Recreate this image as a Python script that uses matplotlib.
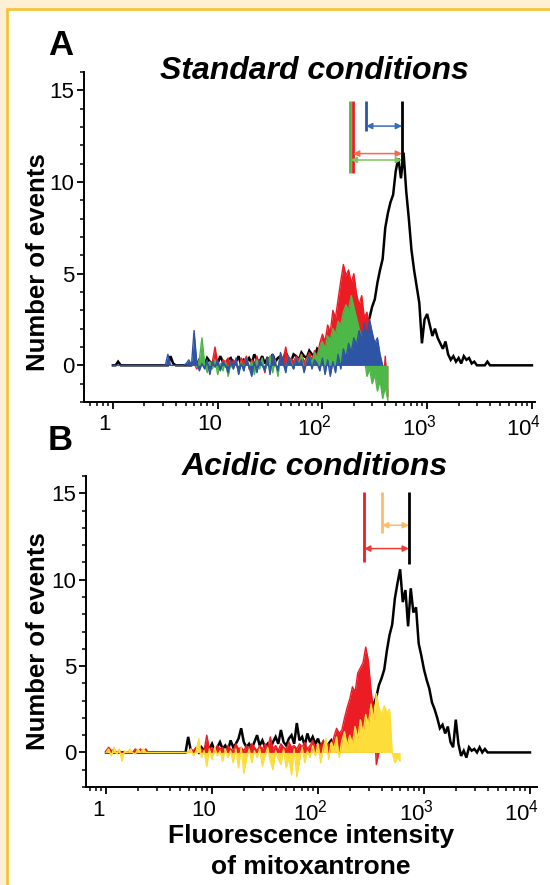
import numpy as np
import matplotlib
matplotlib.use('Agg')
import matplotlib.pyplot as plt
from matplotlib.patches import Rectangle
from matplotlib.transforms import ScaledTranslation
from matplotlib.ticker import LogLocator, MultipleLocator, FixedLocator, NullFormatter

plt.rcParams['font.family'] = ['Liberation Sans', 'DejaVu Sans']
plt.rcParams['mathtext.fontset'] = 'custom'
plt.rcParams['mathtext.rm'] = 'Liberation Sans'

# ---------------- data ----------------
CH_STEP = 0.025  # width of one histogram channel, in decades

# Panel A (standard conditions); each series: first channel (log10 intensity) + counts
a_black_start = 0.0
a_black = [0, 0, 0.2, 0, 0, 0, 0, 0, 0, 0,
           0, 0, 0, 0, 0, 0, 0, 0, 0, 0,
           0, 0, 0.5, 0.1, 0, 0, 0, 0, 0, 0,
           0,
           0.2, 0, 0.3, 0.1, 0, 0.4, 0.2, 0, 0.3, 0.1,
           0.5, 0.2, 0, 0.3, 0.4, 0.1, 0.2, 0.5, 0, 0.3,
           0.2, 0.4, 0.1, 0.6, 0.3, 0.2, 0.5, 0.1, 0.4, 0.3,
           0.6, 0.2, 0.4, 0.5, 0.3, 0.7, 0.4, 0.2, 0.6, 0.5,
           0.3, 0.7, 0.5, 0.4, 0.8, 0.6, 0.5, 0.9, 0.7, 0.6,
           0.8, 0.5, 0.9, 0.7, 1.0, 0.8, 1.2, 0.9, 1.3, 1.1,
           1.4, 1.2, 1.6, 1.3, 1.7,
           1.8, 2.2, 2.6, 3.2, 3.6, 4.5, 5.2, 5.8, 7.5, 8.3,
           8.9, 9.3, 10.6, 11.3, 10.2, 11.6, 9.5, 8.0, 6.3, 5.2,
           4.3, 3.4, 1.2, 2.5, 2.8, 2.2, 1.6, 2.0, 1.5, 1.2,
           0.9, 1.3, 0.6, 0.3, 0.5, 0.2, 0.4, 0.1, 0.5, 0.3,
           0.4, 0.1, 0.2, 0, 0, 0, 0, 0.2, 0, 0,
           0, 0, 0, 0, 0, 0, 0, 0, 0, 0,
           0, 0, 0, 0, 0]

a_red_start = 0.75
a_red = [0, 0.1, -0.2, 0.3, 0, 0.2, -0.3, 0.1, 0.2, 1.0,
         0.1, -0.2, 0.3, 0.2, 0.4, -0.1, 0.3, 0.1, -0.3, 0.4,
         0.2, 0.5, -0.2, 0.3, 0.1, 0.5, 0, 0.3, -0.4, 0.4,
         0.2, 0.6, 0.1, -0.2, 0.5, 0.3, 1.0, 0.1, 0.4, 0.2,
         0.5, 0.3, 0.6, 0.2, 0.4, 0.7, 0.3, 0.8, 0.5, 1.2,
         1.7, 1.3, 2.2, 1.8, 3.0, 2.6, 3.6, 4.6, 5.5, 4.9,
         5.2, 4.5, 5.0, 3.9, 3.3, 3.8, 2.6, 2.9, 2.0, 1.6,
         1.2, 0.6, -0.4, -1.5, 0.5, -1.7]

a_green_start = 0.75
a_green = [0, 0.2, -0.1, 0.3, 1.5, 0.1, -0.4, 0.2, -0.2, 0.3,
           -0.5, 0.1, -0.3, 0.2, -0.6, 0.1, -0.2, 0.3, -0.4, 0.2,
           -0.3, 0.4, -0.1, 0.2, -0.5, 0.3, -0.2, 0.4, -0.3, 0.1,
           0.5, -0.4, 0.3, -0.6, 0.4, 0.1, -0.3, 0.5, 0.2, -0.2,
           0.4, 0.1, 0.6, -0.3, 0.3, 0.5, 0.1, 0.7, 0.4, 1.0,
           1.3, 0.9, 1.6, 1.4, 2.0, 1.7, 2.4, 2.2, 2.9, 3.3,
           3.0, 3.8, 3.2, 2.6, 2.0, 1.5, 0.4, -0.6, -0.2, -1.0,
           -0.5, -1.4, -0.8, -1.8, -1.2, -1.9]

a_blue_start = 0.0
a_blue = [0, 0, 0, 0, 0, 0, 0, 0, 0, 0,
          0, 0, 0, 0, 0, 0, 0, 0, 0, 0,
          0,
          0.6, 0, 0, 0, 0, 0, 0, 0.1, 0.3, 0,
          1.9, 0.2, -0.3, 0.1, -0.2, 0.3, -0.5, 0.2, -0.1, 0.3,
          -0.3, 0.2, 0.0, -0.4, 0.3, -0.2, 0.4, -0.5, 0.1, -0.3,
          0.4, -0.1, -0.6, 0.2, -0.4, 0.3, 0.0, -0.3, 0.4, -0.5,
          0.6, 0.1, -0.3, 0.7, 0.2, -0.4, 0.5, 0.1, -0.2, 0.4,
          0.0, 0.3, -0.4, 0.2, 0.5, -0.2, 0.3, 0.1, -0.3, 0.4,
          -0.5, 0.3, -0.6, 0.2, -0.4, 0.6, -0.2, 0.9, 0.4, 1.2,
          0.7, 1.5, 1.1, 1.9, 1.4, 2.3, 1.6, 2.5, 1.8, 1.2,
          1.5, 0.6, 0.0]

# gate markers, panel A: (x position, top, bottom)
a_marks_x = [184, 194, 261, 576]
a_marks_top = [14.4, 14.4, 14.4, 14.4]
a_marks_bottom = [10.5, 10.5, 12.8, 11.0]
# distance arrows, panel A: (from x, to x, y)
a_arrow_from = [261, 196, 186]
a_arrow_to = [576, 576, 576]
a_arrow_y = [13.05, 11.55, 11.2]

# Panel B (acidic conditions)
b_black_start = 0.0
b_black = [0, 0, 0, 0, 0, 0, 0, 0, 0, 0,
           0, 0, 0, 0, 0, 0, 0, 0, 0, 0,
           0, 0, 0, 0, 0, 0, 0, 0, 0, 0,
           0,
           0.9, 0.1, 0, 0.2, 0, 0.3, 0.1, 0.4, 0.2, 0.5,
           0.1, 0.3, 0.6, 0.2, 0.4, 0.1, 0.7, 0.3, 0.5, 0.8,
           1.4, 0.6, 0.3, 0.5, 0.2, 0.6, 1.0, 0.4, 0.7, 0.3,
           0.5, 0.2, 0.6, 0.9, 0.5, 1.3, 0.6, 0.4, 0.8, 1.0,
           0.5, 1.7, 0.7, 0.9, 0.4, 1.1, 0.6, 0.9, 0.5, 0.8,
           0.3, 0.6, 0.2, 0.5, 0.7, 0.3, 0.6, 1.0, 0.7, 1.2,
           0.9, 1.4, 1.1, 1.6, 1.3,
           1.8, 1.5, 2.0, 2.3, 2.1, 2.8, 3.2, 3.9, 4.3, 4.8,
           5.9, 6.8, 7.4, 8.9, 9.8, 10.6, 8.7, 9.4, 7.3, 9.5,
           8.1, 8.4, 6.3, 5.6, 4.8, 4.2, 3.7, 2.9, 2.5, 2.0,
           1.4, 1.6, 1.1, 1.5, 0.6, 0.3, 1.9, 0.5, -0.2, 0.1,
           -0.3, 0.3, 0.1, 0.2, 0, 0.3, 0, 0.2, 0, 0,
           0, 0, 0, 0, 0, 0, 0, 0, 0, 0,
           0, 0, 0, 0, 0]

b_red_start = 0.0
b_red = [0.1, 0.3, 0.1, 0.2, 0, 0.1, 0, 0, 0, 0,
         0, 0.2, 0.1, 0.2, 0, 0.2, 0, 0, 0, 0,
         0, 0, 0, 0, 0, 0, 0, 0, 0, 0,
         0,
         0, 0.2, 0.1, 0.3, 0, 0.2, 0.1, 1.0, 0.2, 0.3,
         0.1, 0.4, 0.2, 0.3, 0, 0.4, 0.2, 0.1, 0.5, 0.2,
         0.3, 0.1, 0.4, 0.2, 0.5, 0.3, 0.1, 0.4, 0.2, 0.5,
         0.3, 0.9, 0.2, 0.4, 0.1, 0.5, 0.3, 0.2, 0.6, 0.3,
         0.4, 0.2, 0.5, 0.3, 0.6, 0.2, 0.4, 0.7, 0.3, 0.5,
         0.4, 0.7, 0.3,
         0.5, 0.3, 0.9, 1.4, 1.1, 1.3, 2.0, 2.6, 3.1, 3.8,
         3.5, 4.6, 4.9, 5.2, 6.1, 5.3, 3.6, 2.4, -0.7, 0]

b_yellow_start = 0.0
b_yellow = [0, 0.2, -0.2, 0.3, -0.1, 0.2, -0.5, 0.1, 0, 0.2,
            0, -0.1, 0.2, 0, 0.2, 0, 0, 0, 0, 0,
            0, 0, 0, 0, 0, 0, 0, 0, 0, 0,
            0,
            0, 0.2, -0.2, 0.1, 0.8, -0.3, 0.1, -0.8, 0.2, -0.4,
            0.3, -0.2, 0.1, -0.5, 0.2, -0.3, 0.1, -0.6, 0.2, -0.9,
            0.3, -1.2, -0.4, 0.2, -0.6, 0.1, -0.3, 0.2, -0.8, -0.2,
            0.3, -0.5, -1.0, 0.1, -0.4, -0.7, 0.2, -0.9, -0.3, -1.3,
            0.2, -1.4, -0.5, 0.3, -0.6, 0.1, -0.3, 0.4, -0.2, 0.5,
            -0.6, 0.3, 0.8, -0.4, 0.6, 0.2, 0.9, -0.3, 0.7, 1.2,
            0.4, 1.0, 0.5, 1.5, 0.8, 1.9, 1.1, 2.2, 1.6, 2.8,
            1.9, 3.4, 2.6, 2.2, 2.7, 2.3, 2.5, 0, -0.6, -0.3,
            -0.5]

b_marks_x = [272, 402, 721]
b_marks_top = [15.1, 15.1, 15.1]
b_marks_bottom = [11.0, 12.7, 10.9]
b_arrow_from = [402, 272]
b_arrow_to = [721, 721]
b_arrow_y = [13.15, 11.8]

decade_ticks = [1, 10, 100, 1000, 10000]
decade_labels = ['1', '10', r'$\mathregular{10^{2}}$', r'$\mathregular{10^{3}}$', r'$\mathregular{10^{4}}$']
y_ticks = [0, 5, 10, 15]

# ---------------- colours ----------------
C_BLACK = '#000000'
C_RED = '#EC1C24'
C_GREEN = '#4DB848'
C_BLUE = '#2E54A6'
C_YELLOW = '#FDDD3A'
C_ORANGE = '#FBBB6A'
C_ARR_RED = '#F26A50'
C_ARR_GREEN = '#7DC55A'
C_ARR_BLUE = '#3A6DB5'
C_ARR_RED_B = '#EE3B33'


def channels(start, vals):
    return 10 ** (start + CH_STEP * np.arange(len(vals)))


def draw_black(ax, start, vals):
    ax.plot(channels(start, vals), vals, color=C_BLACK, lw=1.8, zorder=2,
            solid_joinstyle='miter')


def draw_filled(ax, start, vals, color, z):
    x = channels(start, vals)
    y = np.asarray(vals, dtype=float)
    ax.fill_between(x, 0, y, color=color, lw=0, zorder=z)
    ax.plot(x, y, color=color, lw=1.0, zorder=z + 0.1)


def style_axes(fig, ax, xlim):
    ax.set_xscale('log')
    ax.set_xlim(*xlim)
    ax.set_ylim(-2, 16)
    for s in ['top', 'right']:
        ax.spines[s].set_visible(False)
    for s in ['left', 'bottom']:
        ax.spines[s].set_linewidth(1.4)
    ax.xaxis.set_major_locator(FixedLocator(decade_ticks))
    ax.set_xticklabels(decade_labels)
    ax.xaxis.set_minor_locator(LogLocator(base=10, subs=np.arange(2, 10), numticks=20))
    ax.xaxis.set_minor_formatter(NullFormatter())
    ax.set_yticks(y_ticks)
    ax.yaxis.set_minor_locator(MultipleLocator(1))
    ax.tick_params(axis='both', which='major', direction='out', length=5, width=1.3,
                   labelsize=16)
    ax.tick_params(axis='y', which='major', pad=2)
    ax.tick_params(axis='x', which='major', pad=4)
    ax.tick_params(axis='both', which='minor', direction='out', length=3, width=1.1)
    ax.set_facecolor('white')
    shift = ScaledTranslation(-8 / 100, 0, fig.dpi_scale_trans)
    for lab in ax.get_xticklabels():
        lab.set_transform(lab.get_transform() + shift)


def marker(ax, x, top, bottom, color):
    ax.plot([x, x], [bottom, top], color=color, lw=2.0, solid_capstyle='butt', zorder=5)


def arrow(ax, x0, x1, y, color):
    ax.annotate('', xy=(x1, y), xytext=(x0, y),
                arrowprops=dict(arrowstyle='<|-|>', color=color, lw=1.1,
                                mutation_scale=9, shrinkA=0, shrinkB=0), zorder=5)


W, H = 550, 885
fig = plt.figure(figsize=(W / 100, H / 100), dpi=100, facecolor='#FDF0D5')
fig.patches.append(Rectangle((7 / W, -0.05), 1.2, 1 - 9 / H + 0.05,
                             transform=fig.transFigure, facecolor='white',
                             edgecolor='#F6C12F', lw=1.9, zorder=-10))

# ---------- Panel A ----------
axA = fig.add_axes([84 / W, 1 - 402 / H, 451 / W, 330 / H])
axA.set_zorder(2)
style_axes(fig, axA, (0.53, 10700))
draw_black(axA, a_black_start, a_black)
draw_filled(axA, a_red_start, a_red, C_RED, 3)
draw_filled(axA, a_green_start, a_green, C_GREEN, 3.3)
draw_filled(axA, a_blue_start, a_blue, C_BLUE, 3.6)
for x, t, b, c in zip(a_marks_x, a_marks_top, a_marks_bottom,
                      [C_GREEN, C_RED, C_BLUE, C_BLACK]):
    marker(axA, x, t, b, c)
for x0, x1, y, c in zip(a_arrow_from, a_arrow_to, a_arrow_y,
                        [C_ARR_BLUE, C_ARR_RED, C_ARR_GREEN]):
    arrow(axA, x0, x1, y, c)

# ---------- Panel B ----------
axB = fig.add_axes([86 / W, 1 - 787 / H, 451 / W, 311 / H])
axB.set_zorder(2)
style_axes(fig, axB, (0.647, 11650))
draw_black(axB, b_black_start, b_black)
draw_filled(axB, b_red_start, b_red, C_RED, 3)
draw_filled(axB, b_yellow_start, b_yellow, C_YELLOW, 3.3)
for x, t, b, c in zip(b_marks_x, b_marks_top, b_marks_bottom,
                      [C_RED, C_ORANGE, C_BLACK]):
    marker(axB, x, t, b, c)
for x0, x1, y, c in zip(b_arrow_from, b_arrow_to, b_arrow_y,
                        [C_ORANGE, C_ARR_RED_B]):
    arrow(axB, x0, x1, y, c)

# ---------- texts ----------
fig.text(48 / W, 1 - 55 / H, 'A', fontsize=25, fontweight='bold', ha='left', va='baseline')
fig.text(314 / W, 1 - 79 / H, 'Standard conditions', fontsize=23, fontweight='bold',
         fontstyle='italic', ha='center', va='baseline')
fig.text(48 / W, 1 - 450 / H, 'B', fontsize=25, fontweight='bold', ha='left', va='baseline')
fig.text(315 / W, 1 - 475 / H, 'Acidic conditions', fontsize=23, fontweight='bold',
         fontstyle='italic', ha='center', va='baseline')
fig.text(38 / W, 1 - 262 / H, 'Number of events', fontsize=18.5, fontweight='bold',
         rotation=90, ha='center', va='center')
fig.text(38 / W, 1 - 641 / H, 'Number of events', fontsize=18.5, fontweight='bold',
         rotation=90, ha='center', va='center')
fig.text(311 / W, 1 - 843 / H, 'Fluorescence intensity', fontsize=19, fontweight='bold',
         ha='center', va='baseline')
fig.text(311 / W, 1 - 874 / H, 'of mitoxantrone', fontsize=19, fontweight='bold',
         ha='center', va='baseline')

fig.savefig('out.png', dpi=100, facecolor=fig.get_facecolor())
